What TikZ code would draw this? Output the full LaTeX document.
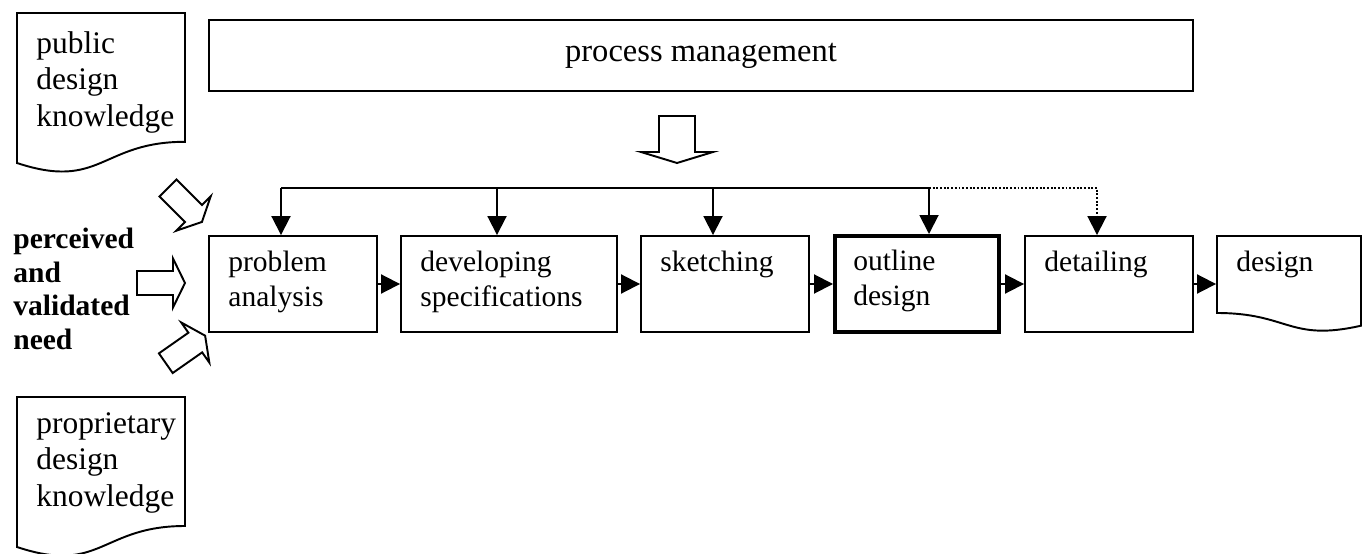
\documentclass[tikz,border=0pt]{standalone}
\usepackage{fontspec}
\setmainfont{Liberation Serif}
\usetikzlibrary{arrows.meta}
\newcommand{\stagefont}{\fontsize{16.8}{19.9}\selectfont}
\newcommand{\docfont}{\fontsize{17.9}{20.8}\selectfont}
\newcommand{\pmfont}{\fontsize{18.5}{21}\selectfont}
\newcommand{\needfont}{\fontsize{16.8}{19.1}\selectfont\bfseries}

\begin{document}
\begin{tikzpicture}[x=0.02cm, y=-0.02cm,
	stage/.style={draw, line width=1.1pt, minimum width=3.36cm, minimum height=1.92cm, inner sep=0pt},
	stagetext/.style={anchor=north west, inner sep=0pt, align=left, font=\stagefont, xshift=0.4cm, yshift=-0.32cm},
	doctext/.style={anchor=north west, inner sep=0pt, align=left, font=\docfont},
	flow/.style={line width=1.1pt, -{Triangle[length=0.38cm, width=0.38cm]}},
	hollow/.style={draw, line width=1.1pt, fill=white, line join=miter},
	paper/.style={draw, line width=1.1pt}]

	\useasboundingbox (0,0) rectangle (1367,554);

	\node[stage, minimum width=19.68cm, minimum height=1.42cm, font=\pmfont] (pm) at (701,55.5) {process management};

	% the design stages
	\node[stage] (pa) at (293,284) {};
	\node[stage, minimum width=4.32cm] (ds) at (509,284) {};
	\node[stage] (sk) at (725,284) {};
	\node[stage, line width=0.08cm, minimum width=3.28cm] (od) at (917,284) {};
	\node[stage] (dt) at (1109,284) {};
	\node[stage, draw=none, minimum width=2.88cm] (dg) at (1289,284) {};

	\node[stagetext] (patext) at (pa.north west) {problem\\analysis};
	\node[stagetext] (dstext) at (ds.north west) {developing\\specifications};
	\node[stagetext] (sktext) at (sk.north west) {sketching};
	\node[stagetext] (odtext) at (od.north west) {outline\\design};
	\node[stagetext] (dttext) at (dt.north west) {detailing};
	\node[stagetext] (dgtext) at (dg.north west) {design};

	% documents with the wavy bottom
	\draw[paper] (17,13) -- (185,13) -- (185,141.8) .. controls (101,141.8) and (101,190.8) .. (17,163) -- cycle;
	\draw[paper] (17,397) -- (185,397) -- (185,526) .. controls (101,526) and (101,575) .. (17,547) -- cycle;
	\draw[paper] (1217,236) -- (1217,313) .. controls (1289,313) and (1289,342) .. (1361,325.7) -- (1361,236) -- cycle;

	\node[doctext] (pub) at (36,31) {public\\design\\knowledge};
	\node[doctext] (prop) at (36,412) {proprietary\\design\\knowledge};
	\node[doctext, font=\needfont] (need) at (13,228) {perceived\\and\\validated\\need};

	% hollow arrows
	\begin{scope}[shift={(168,188)}, rotate=-45]
		\draw[hollow] (0,-12) -- (36,-12) -- (36,-24.5) -- (48,0) -- (36,24.5) -- (36,12) -- (0,12) -- cycle;
	\end{scope}
	\begin{scope}[shift={(137,283)}]
		\draw[hollow] (0,-12) -- (36,-12) -- (36,-24.5) -- (48,0) -- (36,24.5) -- (36,12) -- (0,12) -- cycle;
	\end{scope}
	\begin{scope}[shift={(165.8,363.2)}, rotate=35]
		\draw[hollow] (0,-12) -- (36,-12) -- (36,-24.5) -- (48,0) -- (36,24.5) -- (36,12) -- (0,12) -- cycle;
	\end{scope}
	\begin{scope}[shift={(677,116)}, rotate=-90]
		\draw[hollow] (0,-18) -- (36,-18) -- (36,-36) -- (47,0) -- (36,36) -- (36,18) -- (0,18) -- cycle;
	\end{scope}

	% control lines from process management
	\coordinate (b1) at (281,188);
	\coordinate (b2) at (497,188);
	\coordinate (b3) at (713,188);
	\coordinate (b4) at (929,188);
	\coordinate (b5) at (1097,188);

	\draw[line width=1.1pt] (b1) -- (b4);
	\foreach \s/\c in {pa/b1, ds/b2, sk/b3, od/b4}
		\draw[flow] (\c) -- (\c |- \s.north);
	\draw[flow, densely dotted] (b4) -- (b5) -- (b5 |- dt.north);

	% sequence
	\draw[flow] (pa) -- (ds);
	\draw[flow] (ds) -- (sk);
	\draw[flow] (sk) -- (od);
	\draw[flow] (od) -- (dt);
	\draw[flow] (dt) -- (dg);

\end{tikzpicture}
\end{document}
